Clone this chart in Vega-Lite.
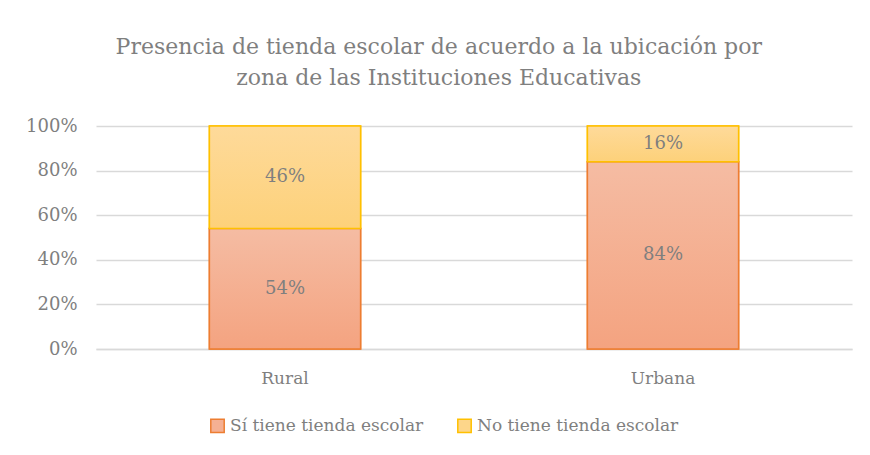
{
  "$schema": "https://vega.github.io/schema/vega-lite/v6.json",
  "width": 870,
  "height": 455,
  "autosize": {"type": "fit", "contains": "padding"},
  "padding": {"left": 25, "right": 18, "top": 36, "bottom": 69},
  "background": "white",
  "title": {
    "text": ["Presencia de tienda escolar de acuerdo a la ubicación por", "zona de las Instituciones Educativas"],
    "font": "DejaVu Serif",
    "fontSize": 22,
    "fontWeight": "normal",
    "color": "#7f7f7f",
    "frame": "bounds",
    "anchor": "middle",
    "lineHeight": 31,
    "offset": 27
  },
  "data": {
    "values": [
      {"zona": "Rural", "tipo": "Sí tiene tienda escolar", "valor": 0.54},
      {"zona": "Rural", "tipo": "No tiene tienda escolar", "valor": 0.46},
      {"zona": "Urbana", "tipo": "Sí tiene tienda escolar", "valor": 0.84},
      {"zona": "Urbana", "tipo": "No tiene tienda escolar", "valor": 0.16}
    ]
  },
  "transform": [
    {"stack": "valor", "groupby": ["zona"], "sort": [{"field": "tipo", "order": "descending"}], "as": ["v0", "v1"]},
    {"calculate": "(datum.v0 + datum.v1) / 2", "as": "mid"}
  ],
  "encoding": {
    "x": {
      "field": "zona",
      "type": "nominal",
      "scale": {"paddingInner": 0.6, "paddingOuter": 0.3},
      "axis": {
        "title": null,
        "labelAngle": 0,
        "labelFont": "DejaVu Serif",
        "labelFontSize": 17,
        "labelColor": "#7f7f7f",
        "labelPadding": 21,
        "ticks": false,
        "domainColor": "#d9d9d9",
        "domainWidth": 1.5
      }
    },
    "y": {
      "field": "v0",
      "type": "quantitative",
      "scale": {"domain": [0, 1]},
      "axis": {
        "title": null,
        "format": "%",
        "values": [0, 0.2, 0.4, 0.6, 0.8, 1],
        "labelFont": "DejaVu Serif",
        "labelFontSize": 18,
        "labelColor": "#7f7f7f",
        "labelPadding": 19,
        "domain": false,
        "ticks": false,
        "gridColor": "#d9d9d9",
        "gridWidth": 1.5
      }
    },
    "y2": {"field": "v1"}
  },
  "layer": [
    {
      "mark": {"type": "bar", "strokeWidth": 1.5},
      "encoding": {
        "fill": {
          "field": "tipo",
          "type": "nominal",
          "scale": {
            "domain": ["Sí tiene tienda escolar", "No tiene tienda escolar"],
            "range": ["#f5b093", "#fdd68a"]
          },
          "legend": {
            "title": null,
            "orient": "none",
            "direction": "horizontal",
            "legendX": 113,
            "legendY": 291,
            "symbolType": "square",
            "symbolSize": 180,
            "labelFont": "DejaVu Serif",
            "labelFontSize": 17,
            "labelColor": "#7f7f7f",
            "labelLimit": 0,
            "labelOffset": 4,
            "columnPadding": 30,
            "symbolStrokeWidth": 1.5
          }
        },
        "stroke": {
          "field": "tipo",
          "type": "nominal",
          "scale": {
            "domain": ["Sí tiene tienda escolar", "No tiene tienda escolar"],
            "range": ["#ed7d31", "#ffc000"]
          },
          "legend": {
            "title": null,
            "orient": "none",
            "direction": "horizontal",
            "legendX": 113,
            "legendY": 291,
            "symbolType": "square",
            "symbolSize": 180,
            "labelFont": "DejaVu Serif",
            "labelFontSize": 17,
            "labelColor": "#7f7f7f",
            "labelLimit": 0,
            "labelOffset": 4,
            "columnPadding": 30,
            "symbolStrokeWidth": 1.5
          }
        }
      }
    },
    {
      "transform": [{"filter": "datum.tipo === 'Sí tiene tienda escolar'"}],
      "mark": {
        "type": "bar",
        "strokeWidth": 1.5,
        "stroke": "#ed7d31",
        "fill": {"gradient": "linear", "x1": 0, "y1": 0, "x2": 0, "y2": 1, "stops": [{"offset": 0, "color": "#f5bca3"}, {"offset": 1, "color": "#f4a380"}]}
      }
    },
    {
      "transform": [{"filter": "datum.tipo === 'No tiene tienda escolar'"}],
      "mark": {
        "type": "bar",
        "strokeWidth": 1.5,
        "stroke": "#ffc000",
        "fill": {"gradient": "linear", "x1": 0, "y1": 0, "x2": 0, "y2": 1, "stops": [{"offset": 0, "color": "#feda9a"}, {"offset": 1, "color": "#fdd17a"}]}
      }
    },
    {
      "mark": {"type": "text", "font": "DejaVu Serif", "fontSize": 18, "color": "#7f7f7f", "baseline": "middle"},
      "encoding": {
        "y": {"field": "mid", "type": "quantitative"},
        "y2": null,
        "text": {"field": "valor", "type": "quantitative", "format": ".0%"}
      }
    }
  ],
  "config": {
    "view": {"stroke": null}
  }
}
